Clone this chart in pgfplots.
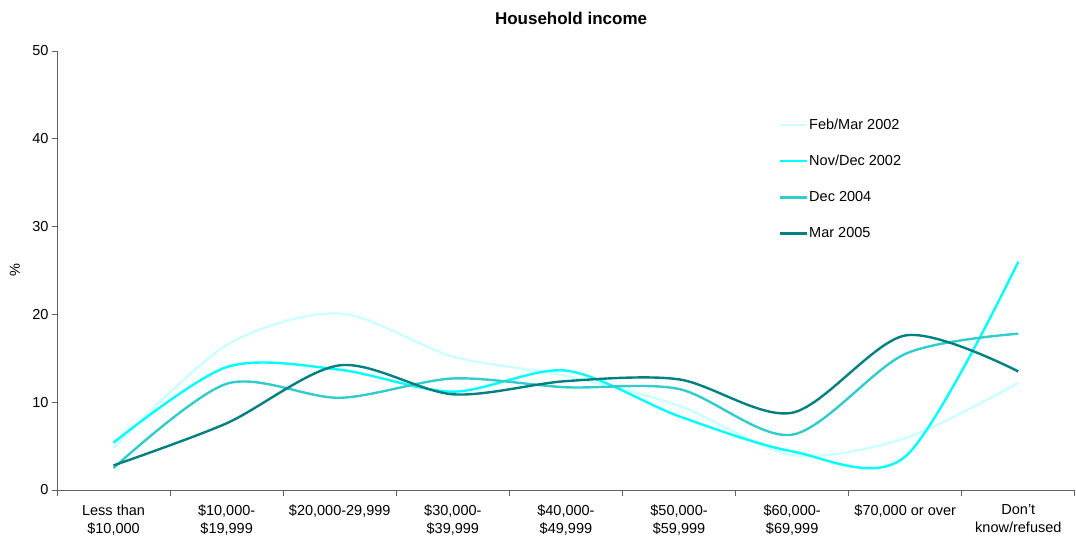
\documentclass[border=0pt]{standalone}
\usepackage{pgfplots}
\pgfplotsset{compat=1.18}
\usepackage{fontspec}
\setmainfont{Liberation Sans}
\definecolor{cFeb}{HTML}{CCFFFF}
\definecolor{cNov}{HTML}{00FFFF}
\definecolor{cDec}{HTML}{33CCCC}
\definecolor{cMar}{HTML}{008080}
\definecolor{axgray}{HTML}{606060}
\begin{document}
\begin{tikzpicture}
\useasboundingbox (-57pt,-47pt) rectangle (1019pt,490pt);
\begin{axis}[
  scale only axis, width=1018pt, height=439pt,
  xmin=-0.5, xmax=8.5, ymin=0, ymax=50,
  axis x line*=bottom, axis y line*=left,
  axis line style={axgray, line width=0.8pt},
  every tick/.style={axgray, line width=0.8pt},
  tick align=outside,
  major tick length=5pt, minor tick length=6pt,
  ytick={0,10,...,50},
  xtick={0,...,8},
  major x tick style={draw=none},
  minor xtick={-0.5,0.5,...,8.5},
  xticklabels={{Less than\\\$10,000},{\$10,000-\\\$19,999},{\$20,000-29,999},{\$30,000-\\\$39,999},{\$40,000-\\\$49,999},{\$50,000-\\\$59,999},{\$60,000-\\\$69,999},{\$70,000 or over},{Don't\\know/refused}},
  xticklabel style={align=center, font=\fontsize{14.5}{18}\selectfont, anchor=north, yshift=-6pt},
  yticklabel style={font=\fontsize{14.5}{18}\selectfont},
  /pgf/number format/assume math mode=true,
  legend style={at={(0.706,0.853)}, anchor=north west, draw=none, fill=none,
    font=\fontsize{14.5}{18}\selectfont, row sep=22.5pt,
    nodes={inner sep=1pt}},
  legend cell align=left,
  legend image code/.code={\draw[#1] (0pt,0pt) -- (27pt,0pt);},
  clip=false,
]
\addplot[cFeb, line width=2.4pt, smooth, tension=0.5] coordinates {
(0,4.8) (1,16.5) (2,20.1) (3,15.2) (4,13.0) (5,9.6) (6,4.0) (7,5.9) (8,12.2)};
\addlegendentry{Feb/Mar 2002}
\addplot[cNov, line width=2.4pt, smooth, tension=0.5] coordinates {
(0,5.4) (1,14.0) (2,13.7) (3,11.2) (4,13.6) (5,8.4) (6,4.4) (7,3.8) (8,26.0)};
\addlegendentry{Nov/Dec 2002}
\addplot[cDec, line width=2.4pt, smooth, tension=0.5] coordinates {
(0,2.5) (1,12.1) (2,10.5) (3,12.7) (4,11.7) (5,11.5) (6,6.3) (7,15.5) (8,17.8)};
\addlegendentry{Dec 2004}
\addplot[cMar, line width=2.4pt, smooth, tension=0.5] coordinates {
(0,2.8) (1,7.6) (2,14.2) (3,10.9) (4,12.4) (5,12.6) (6,8.8) (7,17.6) (8,13.5)};
\addlegendentry{Mar 2005}
\node[font=\bfseries\fontsize{17}{20}\selectfont] at ([yshift=33pt]rel axis cs:0.505,1) {Household income};
\node[rotate=90, font=\fontsize{14.5}{18}\selectfont] at ([xshift=-42pt]rel axis cs:0,0.5) {\%};
\end{axis}
\end{tikzpicture}
\end{document}
